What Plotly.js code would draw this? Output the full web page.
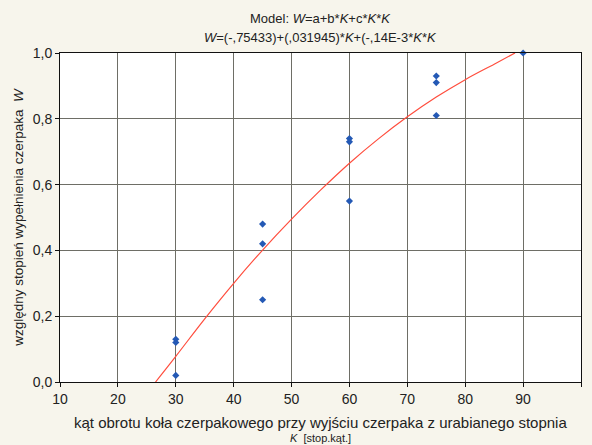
<!DOCTYPE html>
<html>
<head>
<meta charset="utf-8">
<script src="https://cdn.plot.ly/plotly-3.0.1.min.js"></script>
<style>html,body{margin:0;padding:0;background:#f7f5ec;}#chart{width:592px;height:445px;}</style>
</head>
<body>
<div id="chart"></div>
<script>
// Measured points
const kPoints = [30, 30, 30, 45, 45, 45, 60, 60, 60, 75, 75, 75, 90];
const wPoints = [0.13, 0.12, 0.02, 0.48, 0.42, 0.25, 0.74, 0.73, 0.55, 0.93, 0.91, 0.81, 1.0];

// Fitted curve
const kCurve = [26.5, 30, 35, 40, 45, 50, 55, 60, 65, 70, 75, 80, 85, 88.6];
const wCurve = [0.0, 0.078, 0.192, 0.300, 0.401, 0.495, 0.583, 0.665, 0.739, 0.806, 0.866, 0.919, 0.966, 1.0];

const xTicks = [10, 20, 30, 40, 50, 60, 70, 80, 90, 100];
const yTicks = [0, 0.2, 0.4, 0.6, 0.8, 1.0];

const font = 'Liberation Sans, Arial, sans-serif';

const traces = [
  {
    x: kCurve, y: wCurve, type: 'scatter', mode: 'lines',
    line: {color: '#ff4d3d', width: 1.2, shape: 'spline', smoothing: 1},
    hoverinfo: 'skip'
  },
  {
    x: kPoints, y: wPoints, type: 'scatter', mode: 'markers',
    marker: {symbol: 'diamond', size: 5.5, color: '#2459b5'},
    cliponaxis: false
  }
];

const layout = {
  width: 592, height: 445,
  paper_bgcolor: '#f7f5ec',
  plot_bgcolor: '#ffffff',
  separators: ', ',
  showlegend: false,
  margin: {l: 60, r: 11, t: 53, b: 63},
  font: {family: font, color: '#222222'},
  xaxis: {
    range: [10, 100], tickvals: xTicks, tickformat: 'd',
    showgrid: true, gridcolor: '#6e6e66', gridwidth: 1,
    zeroline: false, showline: true, linecolor: '#111111', linewidth: 1, mirror: true,
    ticks: 'outside', ticklen: 4, tickcolor: '#111111',
    tickfont: {size: 14, family: font, color: '#222222'}
  },
  yaxis: {
    range: [0, 1], tickvals: yTicks, tickformat: '.1f',
    showgrid: true, gridcolor: '#6e6e66', gridwidth: 1,
    zeroline: false, showline: true, linecolor: '#111111', linewidth: 1, mirror: true,
    ticks: 'outside', ticklen: 4, tickcolor: '#111111',
    tickfont: {size: 14, family: font, color: '#222222'},
    title: {text: 'względny stopień wypełnienia czerpaka  <i>W</i>', font: {size: 13.5, family: font, color: '#222222'}, standoff: 6}
  },
  annotations: [
    {text: 'Model: <i>W</i>=a+b*<i>K</i>+c*<i>K</i>*<i>K</i>', xref: 'paper', yref: 'paper', x: 0.5, y: 1, yshift: 35,
     showarrow: false, xanchor: 'center', yanchor: 'middle', font: {size: 13, family: font, color: '#222222'}},
    {text: '<i>W</i>=(-,75433)+(,031945)*<i>K</i>+(-,14E-3*<i>K</i>*<i>K</i>', xref: 'paper', yref: 'paper', x: 0.5, y: 1, yshift: 16,
     showarrow: false, xanchor: 'center', yanchor: 'middle', font: {size: 13, family: font, color: '#222222'}},
    {text: 'kąt obrotu koła czerpakowego przy wyjściu czerpaka z urabianego stopnia', xref: 'paper', yref: 'paper', x: 0.5, y: 0, yshift: -40,
     showarrow: false, xanchor: 'center', yanchor: 'middle', font: {size: 15, family: font, color: '#222222'}},
    {text: '<i>K</i>  [stop.kąt.]', xref: 'paper', yref: 'paper', x: 0.5, y: 0, yshift: -56,
     showarrow: false, xanchor: 'center', yanchor: 'middle', font: {size: 11, family: font, color: '#222222'}}
  ]
};

Plotly.newPlot('chart', traces, layout, {staticPlot: true, displayModeBar: false});
</script>
</body>
</html>
